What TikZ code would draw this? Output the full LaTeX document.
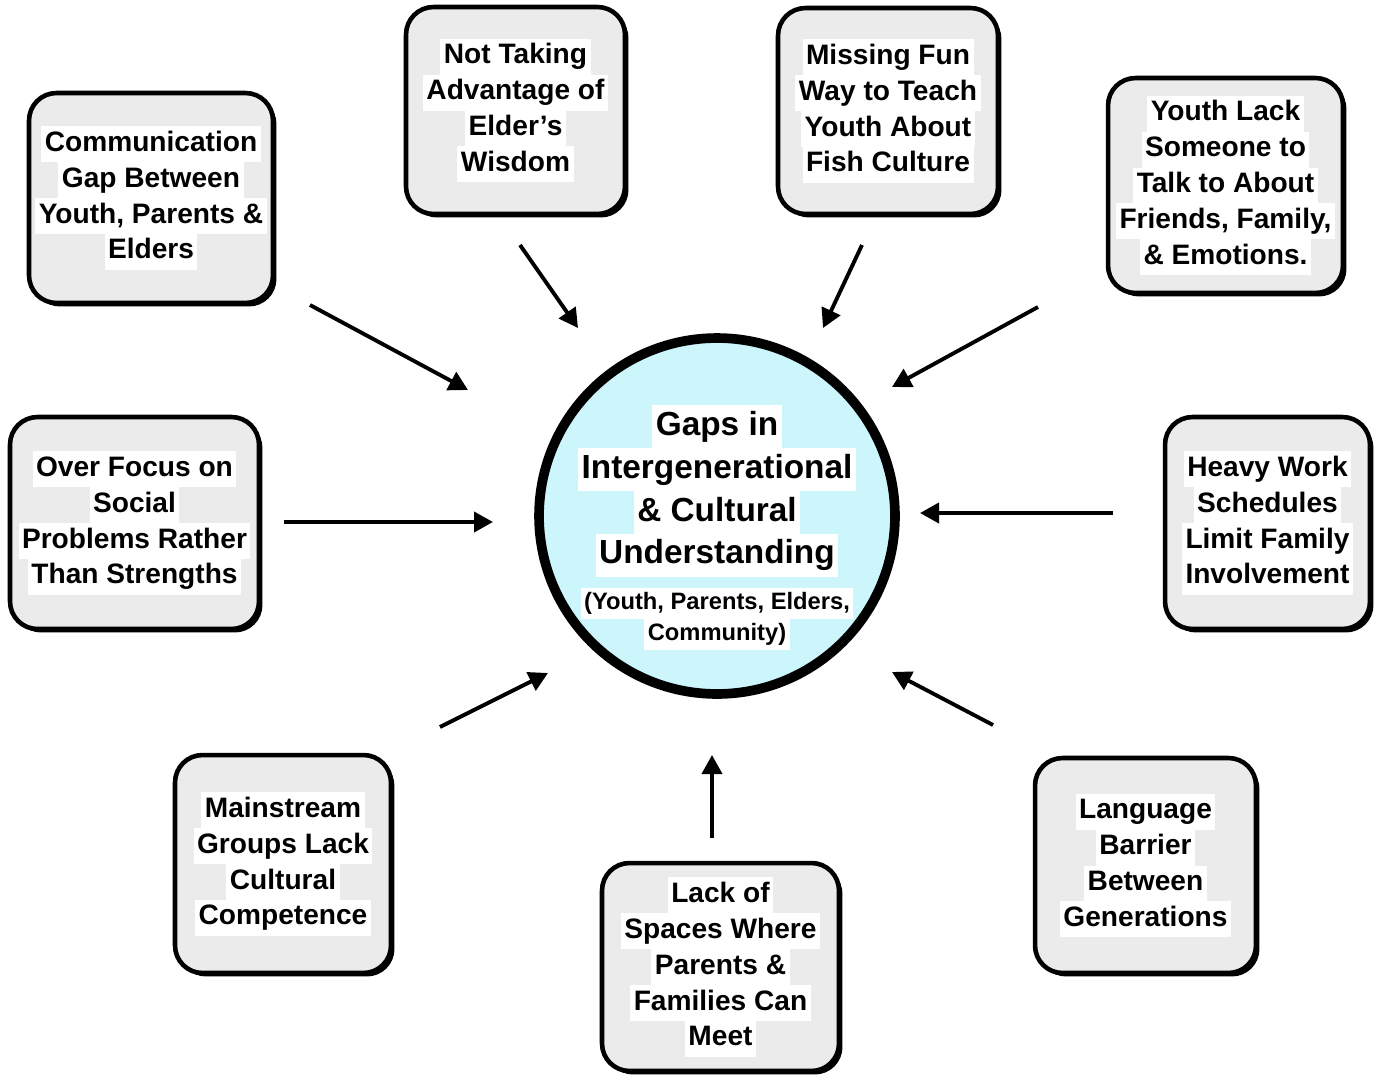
\documentclass[tikz,border=0pt]{standalone}
\usepackage{fontspec}
\setmainfont{Liberation Sans}
\usetikzlibrary{shadows,arrows.meta}
\definecolor{boxgray}{HTML}{EBEBEB}
\definecolor{circfill}{HTML}{CCF6FC}
\newcommand{\wline}[1]{{\setlength{\fboxsep}{0pt}\colorbox{white}{\hspace{2pt}\strut #1\hspace{2pt}}}}
\begin{document}
\begin{tikzpicture}[x=0.02cm,y=-0.02cm,
  gapbox/.style={draw=black, line width=2.6pt, fill=boxgray, rounded corners=0.55cm,
    align=center, inner sep=0pt,
    font=\bfseries\fontsize{16}{20.4}\selectfont,
    drop shadow={shadow xshift=0.07cm, shadow yshift=-0.07cm, fill=black, opacity=1}},
  hub/.style={circle, draw=black, line width=5.5pt, fill=circfill, inner sep=0pt},
  hubtitle/.style={align=center, inner sep=0pt, font=\bfseries\fontsize{19}{24.4}\selectfont},
  hubsub/.style={align=center, inner sep=0pt, font=\bfseries\fontsize{13.5}{17.5}\selectfont},
  arr/.style={line width=2.2pt, -{Triangle[length=0.38cm,width=0.4cm]}}]
\useasboundingbox (0,0) rectangle (1376,1079);

% central circle
\node[hub, minimum size=7.12cm] (hubc) at (717,516) {};
\node[hubtitle] (hubt) at (717,491) {\wline{Gaps in}\\\wline{Intergenerational}\\\wline{\& Cultural}\\\wline{Understanding}};
\node[hubsub] (hubs) at (717,619) {\wline{(Youth, Parents, Elders,}\\\wline{Community)}};

% boxes
\node[gapbox, minimum width=4.88cm, minimum height=4.2cm] (b1) at (151,198)
  {\wline{Communication}\\\wline{Gap Between}\\\wline{Youth, Parents \&}\\\wline{Elders}};
\node[gapbox, minimum width=4.38cm, minimum height=4.14cm] (b2) at (515.5,110.5)
  {\wline{Not Taking}\\\wline{Advantage of}\\\wline{Elder's}\\\wline{Wisdom}};
\node[gapbox, minimum width=4.4cm, minimum height=4.12cm] (b3) at (888,111)
  {\wline{Missing Fun}\\\wline{Way to Teach}\\\wline{Youth About}\\\wline{Fish Culture}};
\node[gapbox, minimum width=4.7cm, minimum height=4.3cm] (b4) at (1225.5,185.5)
  {\wline{Youth Lack}\\\wline{Someone to}\\\wline{Talk to About}\\\wline{Friends, Family,}\\\wline{\& Emotions.}};
\node[gapbox, minimum width=4.98cm, minimum height=4.24cm] (b5) at (134.5,523)
  {\wline{Over Focus on}\\\wline{Social}\\\wline{Problems Rather}\\\wline{Than Strengths}};
\node[gapbox, minimum width=4.1cm, minimum height=4.24cm] (b6) at (1267.5,523)
  {\wline{Heavy Work}\\\wline{Schedules}\\\wline{Limit Family}\\\wline{Involvement}};
\node[gapbox, minimum width=4.32cm, minimum height=4.36cm] (b7) at (283,864)
  {\wline{Mainstream}\\\wline{Groups Lack}\\\wline{Cultural}\\\wline{Competence}};
\node[gapbox, minimum width=4.74cm, minimum height=4.16cm] (b8) at (720.5,967)
  {\wline{Lack of}\\\wline{Spaces Where}\\\wline{Parents \&}\\\wline{Families Can}\\\wline{Meet}};
\node[gapbox, minimum width=4.42cm, minimum height=4.3cm] (b9) at (1145.5,865.5)
  {\wline{Language}\\\wline{Barrier}\\\wline{Between}\\\wline{Generations}};

% arrow end points
\coordinate (a1s) at (310,305);  \coordinate (a1e) at (468,390);
\coordinate (a2s) at (520,245);  \coordinate (a2e) at (578,328);
\coordinate (a3s) at (862,245);  \coordinate (a3e) at (823,328);
\coordinate (a4s) at (1038,307); \coordinate (a4e) at (892,387);
\coordinate (a5s) at (284,522);  \coordinate (a5e) at (493,522);
\coordinate (a6s) at (1113,513); \coordinate (a6e) at (920,513);
\coordinate (a7s) at (440,727);  \coordinate (a7e) at (548,673);
\coordinate (a8s) at (712,838);  \coordinate (a8e) at (712,755);
\coordinate (a9s) at (993,725);  \coordinate (a9e) at (892,672);

\draw[arr] (a1s) -- (a1e);
\draw[arr] (a2s) -- (a2e);
\draw[arr] (a3s) -- (a3e);
\draw[arr] (a4s) -- (a4e);
\draw[arr] (a5s) -- (a5e);
\draw[arr] (a6s) -- (a6e);
\draw[arr] (a7s) -- (a7e);
\draw[arr] (a8s) -- (a8e);
\draw[arr] (a9s) -- (a9e);
\end{tikzpicture}
\end{document}
